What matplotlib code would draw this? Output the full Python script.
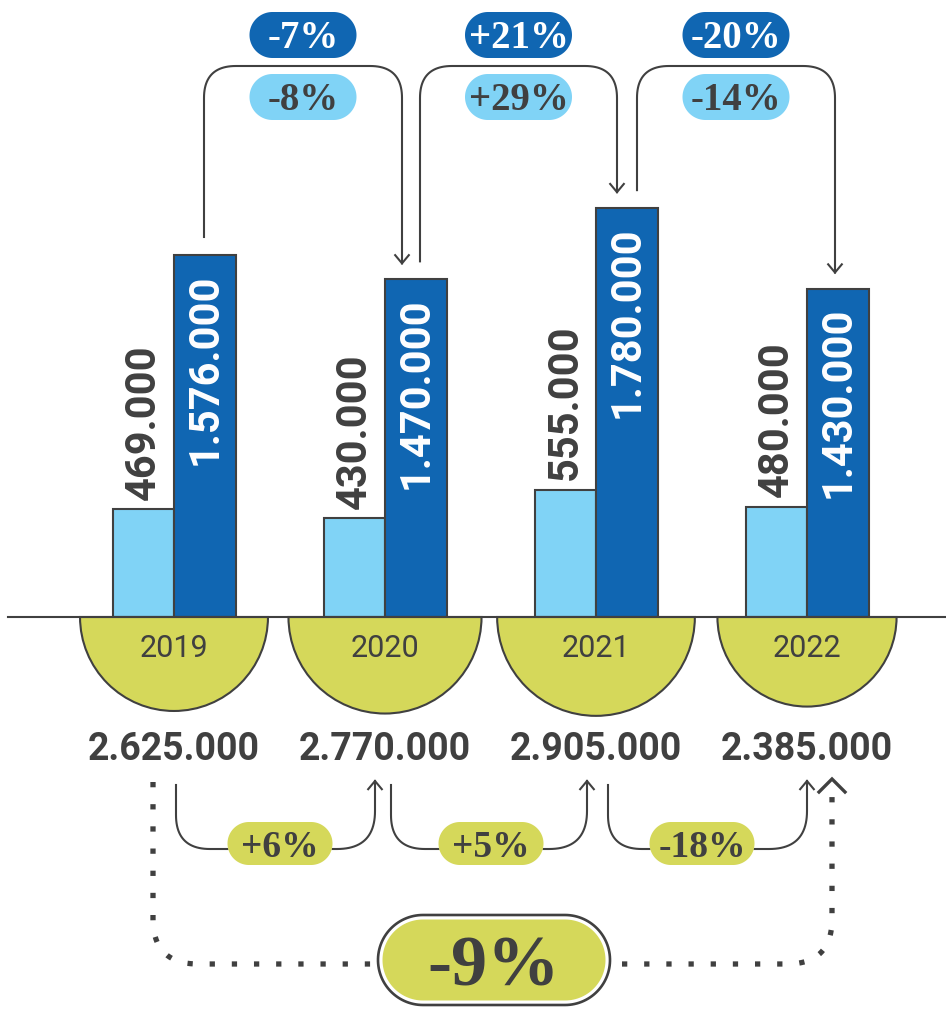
import numpy as np
import matplotlib
matplotlib.use("Agg")
import matplotlib.pyplot as plt
from matplotlib.patches import Wedge, Polygon

# ---------------- data ----------------
years = ["2019", "2020", "2021", "2022"]
light_vals = [469000, 430000, 555000, 480000]
dark_vals = [1576000, 1470000, 1780000, 1430000]
totals = [2625000, 2770000, 2905000, 2385000]
dark_changes = ["-7%", "+21%", "-20%"]
light_changes = ["-8%", "+29%", "-14%"]
total_changes = ["+6%", "+5%", "-18%"]
overall_change = "-9%"

# ---------------- style / layout ----------------
W, H, DPI = 946, 1009, 100
LIGHT = "#80d3f6"
DARK = "#1066b2"
OLIVE = "#d5d85a"
INK = "#404040"
NUM_FONT = "Roboto"
PCT_FONT = "Liberation Serif"

X0, DX = 174.0, 211.0          # pixel centre of first group, group spacing
BASE = 617.0                   # pixel row of the baseline
PX_PER_UNIT = 2.297e-4         # pixels per unit of value
BAR_W = 61.5 / DX

TOP_START_OFF = [30, 35, 41]
TOP_END_OFF = [17, 21, 28]
BOT_START_OFF = [2, 6, 12]
BOT_END_OFF = [-10, -9, 0]


def fmt(v):
    return f"{v:,}".replace(",", ".")


fig = plt.figure(figsize=(W / DPI, H / DPI), dpi=DPI)
ax = fig.add_axes([0, 0, 1, 1])
ax.set_xlim(-X0 / DX, (W - X0) / DX)
ax.set_ylim((BASE - H) / PX_PER_UNIT, BASE / PX_PER_UNIT)
ax.axis("off")

idx = np.arange(len(years))
ax.bar(idx - BAR_W / 2, light_vals, width=BAR_W, color=LIGHT,
       edgecolor=INK, linewidth=1.5, zorder=3)
ax.bar(idx + BAR_W / 2, dark_vals, width=BAR_W, color=DARK,
       edgecolor=INK, linewidth=1.5, zorder=3)

for i in idx:
    ax.annotate(fmt(light_vals[i]), xy=(i - BAR_W / 2, light_vals[i]),
                xytext=(0, 7), textcoords="offset points", rotation=90,
                ha="center", va="bottom", fontsize=30, fontweight="bold",
                family=NUM_FONT, color=INK, zorder=4)
    ax.annotate(fmt(dark_vals[i]), xy=(i + BAR_W / 2, dark_vals[i]),
                xytext=(0, -13), textcoords="offset points", rotation=90,
                ha="center", va="top", fontsize=30, fontweight="bold",
                family=NUM_FONT, color="white", zorder=4)

# overlay in pixel coordinates for decorations
ax2 = fig.add_axes([0, 0, 1, 1], zorder=2)
ax2.set_xlim(0, W)
ax2.set_ylim(H, 0)
ax2.axis("off")
ax2.patch.set_alpha(0)


def to_px(x, v):
    dx, dy = ax.transData.transform((x, v))
    return dx, H - dy


def gx(i):
    return to_px(i, 0)[0]


def rounded(points, r, n=24):
    pts = [np.array(p, float) for p in points]
    out = [pts[0]]
    for k in range(1, len(pts) - 1):
        a, c, b = pts[k - 1], pts[k], pts[k + 1]
        u1 = (a - c) / np.linalg.norm(a - c)
        u2 = (b - c) / np.linalg.norm(b - c)
        p1 = c + u1 * r
        p2 = c + u2 * r
        t = np.linspace(0, 1, n)[:, None]
        curve = (1 - t) ** 2 * p1 + 2 * (1 - t) * t * c + t ** 2 * p2
        out.extend(list(curve))
    out.append(pts[-1])
    arr = np.array(out)
    return arr[:, 0], arr[:, 1]


def chevron(x, y, direction, hw=7.5, ln=9, lw=1.5):
    s = 1 if direction == "down" else -1
    ax2.plot([x - hw, x, x + hw], [y - s * ln, y, y - s * ln],
             color=INK, lw=lw, solid_capstyle="butt",
             solid_joinstyle="miter", zorder=5)


def pill(cx, cy, w, h, fc, ec="none", lw=0):
    r = h / 2
    t = np.linspace(-np.pi / 2, np.pi / 2, 60)
    right = np.c_[cx + w / 2 - r + r * np.cos(t), cy + r * np.sin(t)]
    left = np.c_[cx - w / 2 + r - r * np.cos(t), cy - r * np.sin(t)]
    ax2.add_patch(Polygon(np.vstack([right, left]), closed=True,
                          fc=fc, ec=ec, lw=lw, zorder=6))


# semicircles with years
for i in idx:
    cx = gx(i)
    r = 58 * np.sqrt(totals[i] / 1e6)
    ax2.add_patch(Wedge((cx, BASE), r, 0, 180, fc=OLIVE, ec=INK,
                        lw=1.5, zorder=1))
    ax2.text(cx, 657, years[i], ha="center", va="baseline", fontsize=22,
             family=NUM_FONT, color=INK, zorder=3)
    ax2.text(cx, 760, fmt(totals[i]), ha="center", va="baseline",
             fontsize=27, fontweight="bold", family=NUM_FONT, color=INK,
             zorder=3)

ax2.plot([8, W], [BASE, BASE], color=INK, lw=1.5, zorder=2)

# top arrows (bar-to-bar)
TOP_Y = 66
for i in range(3):
    sx = gx(i) + TOP_START_OFF[i]
    ex = gx(i + 1) + TOP_END_OFF[i]
    sy = to_px(i + BAR_W / 2, dark_vals[i])[1] - 18
    ey = to_px(i + 1 + BAR_W / 2, dark_vals[i + 1])[1] - 16
    xs, ys = rounded([(sx, sy), (sx, TOP_Y), (ex, TOP_Y), (ex, ey)], 32)
    ax2.plot(xs, ys, color=INK, lw=1.5, zorder=5)
    chevron(ex, ey, "down")
    mx = (sx + ex) / 2
    pill(mx, 35, 107, 46, DARK)
    ax2.text(mx, 35 + 13.5, dark_changes[i], ha="center", va="baseline",
             fontsize=28, fontweight="bold", family=PCT_FONT, color="white",
             zorder=7)
    pill(mx, 97, 107, 46, LIGHT)
    ax2.text(mx, 97 + 13.5, light_changes[i], ha="center", va="baseline",
             fontsize=28, fontweight="bold", family=PCT_FONT, color=INK,
             zorder=7)

# bottom arrows (total-to-total)
BOT_Y = 849
for i in range(3):
    sx = gx(i) + BOT_START_OFF[i]
    ex = gx(i + 1) + BOT_END_OFF[i]
    pc = gx(i) + 106
    pw = 105
    xs, ys = rounded([(sx, 785), (sx, BOT_Y), (pc - pw / 2, BOT_Y)], 34)
    ax2.plot(xs, ys, color=INK, lw=1.5, zorder=5)
    xs, ys = rounded([(pc + pw / 2, BOT_Y), (ex, BOT_Y), (ex, 781)], 38)
    ax2.plot(xs, ys, color=INK, lw=1.5, zorder=5)
    chevron(ex, 781, "up")
    pill(pc, 843.5, pw, 43, OLIVE)
    ax2.text(pc, 843.5 + 13.5, total_changes[i], ha="center", va="baseline",
             fontsize=27, fontweight="bold", family=PCT_FONT, color=INK,
             zorder=7)

# overall dotted arrow
DOT_Y = 964
lx = gx(0) - 21
rx = gx(3) + 25
bcx = (lx + rx) / 2 + 1.5
bw, bh = 232, 90
dot_kw = dict(color=INK, lw=3.8, linestyle=(0, (1, 3.2)),
              dash_capstyle="butt", zorder=5)
xs, ys = rounded([(lx, 782), (lx, DOT_Y), (bcx - bw / 2 - 4, DOT_Y)], 45)
ax2.plot(xs, ys, **dot_kw)
xs, ys = rounded([(rx, 796), (rx, DOT_Y), (bcx + bw / 2 + 12, DOT_Y)], 45)
ax2.plot(xs[::-1], ys[::-1], **dot_kw)
ax2.plot([rx - 13, rx, rx + 13], [792, 779, 792], color=INK, lw=2.4,
         solid_joinstyle="miter", zorder=5)

pill(bcx, 960, bw, bh, "white", ec=INK, lw=1.9)
pill(bcx, 960, bw - 9, bh - 9, OLIVE)
ax2.text(bcx, 985, overall_change, ha="center", va="baseline", fontsize=52,
         fontweight="bold", family=PCT_FONT, color=INK, zorder=7)

fig.savefig("out.png", dpi=DPI)
